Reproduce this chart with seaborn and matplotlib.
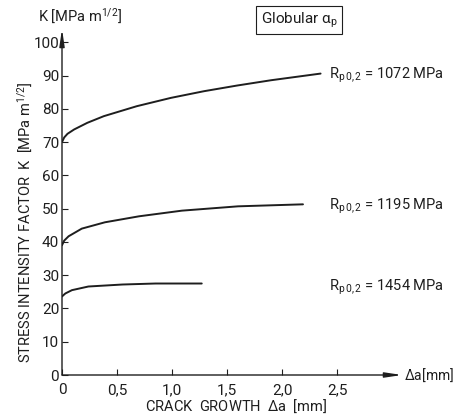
import matplotlib
matplotlib.use("Agg")
import matplotlib.pyplot as plt
import pandas as pd
import seaborn as sns

# Crack growth (mm) and stress intensity factor K (MPa m^1/2) per yield strength
da_1072 = [0, 0.02, 0.05, 0.11, 0.23, 0.38, 0.68, 0.99, 1.29, 1.59, 1.90, 2.35]
k_1072 = [70.0, 71.4, 72.5, 73.8, 75.8, 77.8, 80.8, 83.3, 85.3, 87.0, 88.6, 90.6]

da_1195 = [0, 0.02, 0.06, 0.18, 0.39, 0.70, 1.09, 1.60, 2.19]
k_1195 = [39.0, 40.4, 41.7, 44.0, 45.9, 47.7, 49.4, 50.7, 51.3]

da_1454 = [0, 0.03, 0.09, 0.24, 0.55, 0.85, 1.27]
k_1454 = [23.6, 24.5, 25.5, 26.6, 27.2, 27.5, 27.5]

series_names = ["1072", "1195", "1454"]
label_k = [90.0, 50.7, 26.4]

x_ticks = [0, 0.5, 1.0, 1.5, 2.0, 2.5]
x_tick_labels = ["0", "0,5", "1,0", "1,5", "2,0", "2,5"]
y_ticks = [0, 10, 20, 30, 40, 50, 60, 70, 80, 90, 100]

frames = []
for name, xs, ks in zip(series_names, [da_1072, da_1195, da_1454],
                        [k_1072, k_1195, k_1454]):
    frames.append(pd.DataFrame({"da": xs, "K": ks, "Rp": name}))
df = pd.concat(frames, ignore_index=True)

sns.set_style("ticks")
plt.rcParams["font.family"] = ["Roboto", "DejaVu Sans"]
plt.rcParams["mathtext.fontset"] = "custom"
plt.rcParams["mathtext.rm"] = "Roboto"
plt.rcParams["mathtext.it"] = "Roboto"

ink = "#1e1e1e"
fs = 10.5
fig = plt.figure(figsize=(4.53, 4.19), dpi=100)
ax = fig.add_axes([62 / 453, 44 / 419, 340 / 453, 346 / 419])

sns.lineplot(data=df, x="da", y="K", hue="Rp", units="Rp", estimator=None,
             palette=[ink] * 3, legend=False, lw=1.4, ax=ax, sort=False)

ax.set_xlim(0, 3.09)
ax.set_ylim(0, 104)
for s in ["top", "right", "left", "bottom"]:
    ax.spines[s].set_visible(False)

# axes drawn as arrows
arrow = dict(arrowstyle="-|>,head_length=1.0,head_width=0.15", color=ink,
             lw=1.0, shrinkA=0, shrinkB=0)
ax.annotate("", xy=(3.09, 0), xytext=(0, 0), arrowprops=arrow,
            annotation_clip=False)
ax.annotate("", xy=(0, 104), xytext=(0, 0), arrowprops=arrow,
            annotation_clip=False)

ax.set_xticks(x_ticks)
ax.set_xticklabels(x_tick_labels)
ax.set_yticks(y_ticks)
ax.tick_params(direction="in", length=4, width=0.8, labelsize=fs + 0.5,
               color=ink, labelcolor=ink)
ax.tick_params(axis="x", pad=6)
ax.tick_params(axis="y", pad=2)
ax.set_xlabel("")
ax.set_ylabel("")

for name, yk in zip(series_names, label_k):
    ax.text(2.43, yk, r"R$_{\mathrm{p\,0,2}}$ = " + name + " MPa",
            fontsize=fs, va="center", ha="left", color=ink)

fig.text(80 / 453, 1 - 16 / 419, r"K [MPa m$^{1/2}$]", fontsize=fs,
         ha="center", va="center", color=ink)
fig.text(404 / 453, 1 - 375 / 419, r"$\Delta$a[mm]", fontsize=fs - 0.5,
         ha="left", va="center", color=ink)
fig.text(236 / 453, 1 - 406 / 419, r"CRACK  GROWTH  $\Delta$a  [mm]",
         fontsize=fs, ha="center", va="center", color=ink)
fig.text(25 / 453, 1 - 222 / 419,
         r"STRESS INTENSITY FACTOR  K  [MPa m$^{1/2}$]",
         fontsize=fs, rotation=90, ha="center", va="center", color=ink)
fig.text(299 / 453, 1 - 20 / 419, r"Globular $\alpha_\mathrm{p}$", fontsize=fs + 0.5,
         ha="center", va="center", color=ink,
         bbox=dict(boxstyle="square,pad=0.3", fc="white", ec=ink, lw=0.8))

fig.savefig("out.png", dpi=100, facecolor="white")
